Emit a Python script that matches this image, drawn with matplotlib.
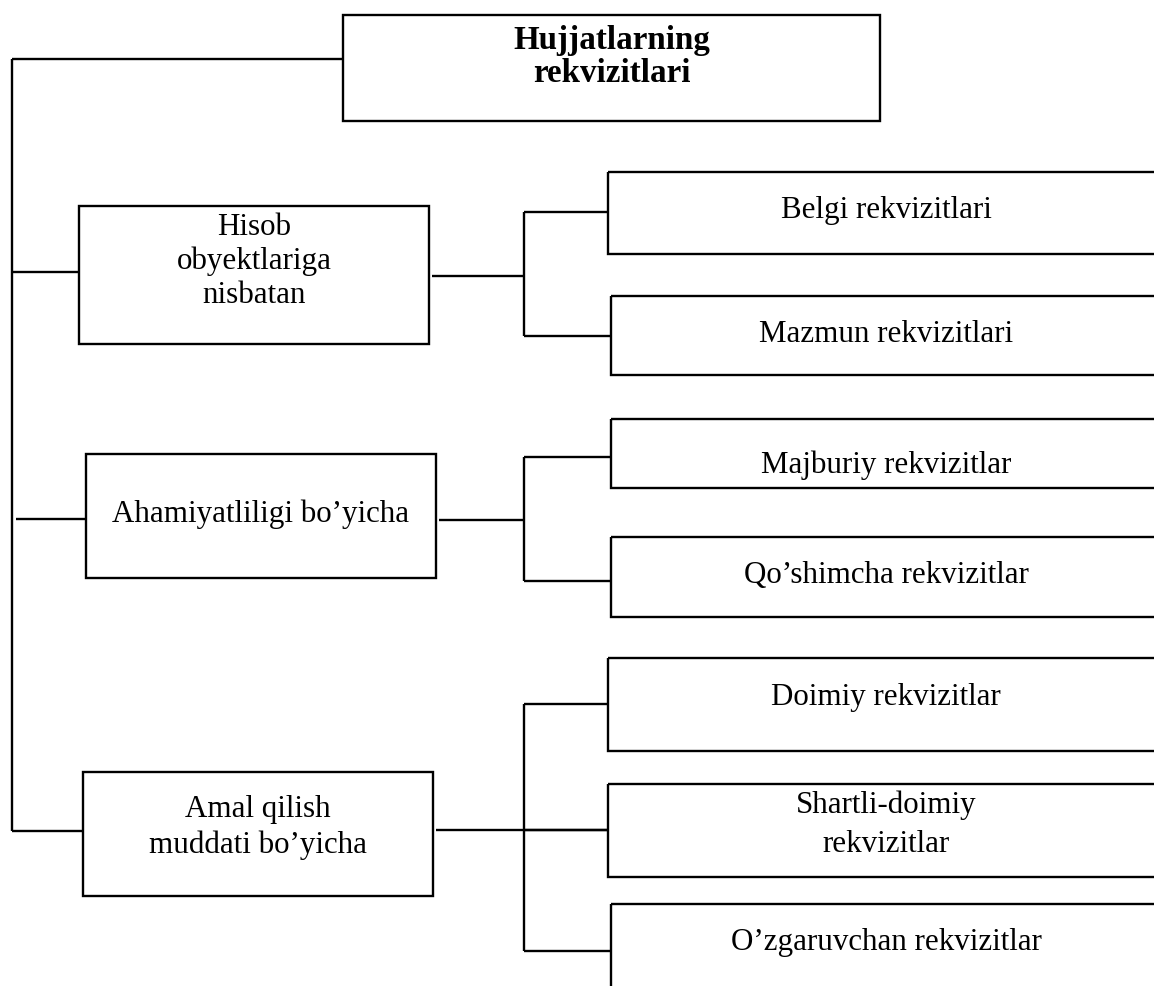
import matplotlib
matplotlib.use("Agg")
import matplotlib.pyplot as plt
from matplotlib.patches import Rectangle

# ---- content ----
title_lines = ["Hujjatlarning", "rekvizitlari"]
group_labels = [
    ["Hisob", "obyektlariga", "nisbatan"],
    ["Ahamiyatliligi bo’yicha"],
    ["Amal qilish", "muddati bo’yicha"],
]
child_labels = [
    [["Belgi rekvizitlari"], ["Mazmun rekvizitlari"]],
    [["Majburiy rekvizitlar"], ["Qo’shimcha rekvizitlar"]],
    [["Doimiy rekvizitlar"], ["Shartli-doimiy", "rekvizitlar"], ["O’zgaruvchan rekvizitlar"]],
]

# ---- layout (pixel coordinates, y downward) ----
W, H = 1154, 986
root_box = (343, 15, 880, 121)          # left, top, right, bottom
root_text_x = 612
root_baselines = [49, 82]
spine_x = 12
spine_top = 59

group_boxes = [(79, 206, 429, 344), (86, 454, 436, 578), (83, 772, 433, 896)]
group_in_y = [272, 519, 831]
group_in_x0 = [12, 16, 12]
group_out_y = [276, 520, 830]
group_text_x = [254, 261, 258]
group_baselines = [[235, 269, 303], [522], [817, 853]]

branch_x = 524
branch_ys = [[212, 336], [457, 581], [704, 830, 951]]
child_boxes = [
    [(608, 172, 254), (611, 296, 375)],
    [(611, 419, 488), (611, 537, 617)],
    [(608, 658, 751), (608, 784, 877), (611, 904, 1010)],
]
child_right = 1170
child_text_x = 886
child_baselines = [
    [[218], [342]],
    [[473], [583]],
    [[705], [813, 852], [950]],
]

LW = 1.7
FS = 22.3
FONT = ["Liberation Serif", "DejaVu Serif"]

fig = plt.figure(figsize=(W / 100, H / 100), dpi=100)
ax = fig.add_axes([0, 0, 1, 1])
ax.set_xlim(0, W)
ax.set_ylim(H, 0)
ax.axis("off")


def box(l, t, r, b):
    ax.add_patch(Rectangle((l, t), r - l, b - t, fill=False, ec="black", lw=LW))


def line(xs, ys):
    ax.plot(xs, ys, color="black", lw=LW, solid_capstyle="butt")


# root
box(*root_box)
for txt, yb in zip(title_lines, root_baselines):
    ax.text(root_text_x, yb, txt, ha="center", va="baseline", fontsize=FS + 1.5,
            fontweight="bold", family=FONT)

# spine
line([spine_x, spine_x], [spine_top, group_in_y[-1]])
line([spine_x, root_box[0]], [spine_top, spine_top])

for gi, gb in enumerate(group_boxes):
    box(*gb)
    line([group_in_x0[gi], gb[0]], [group_in_y[gi], group_in_y[gi]])
    for txt, yb in zip(group_labels[gi], group_baselines[gi]):
        ax.text(group_text_x[gi], yb, txt, ha="center", va="baseline", fontsize=FS, family=FONT)
    bys = branch_ys[gi]
    # connector from group box to branch
    if group_out_y[gi] in bys:
        line([gb[2] + 3, child_boxes[gi][bys.index(group_out_y[gi])][0] - 1],
             [group_out_y[gi], group_out_y[gi]])
    else:
        line([gb[2] + 3, branch_x], [group_out_y[gi], group_out_y[gi]])
    line([branch_x, branch_x], [bys[0], bys[-1]])
    for ci, cb in enumerate(child_boxes[gi]):
        l, t, b = cb
        box(l, t, child_right, b)
        line([branch_x, l - 1], [bys[ci], bys[ci]])
        for txt, yb in zip(child_labels[gi][ci], child_baselines[gi][ci]):
            ax.text(child_text_x, yb, txt, ha="center", va="baseline", fontsize=FS, family=FONT)

fig.savefig("out.png", dpi=100, facecolor="white")
